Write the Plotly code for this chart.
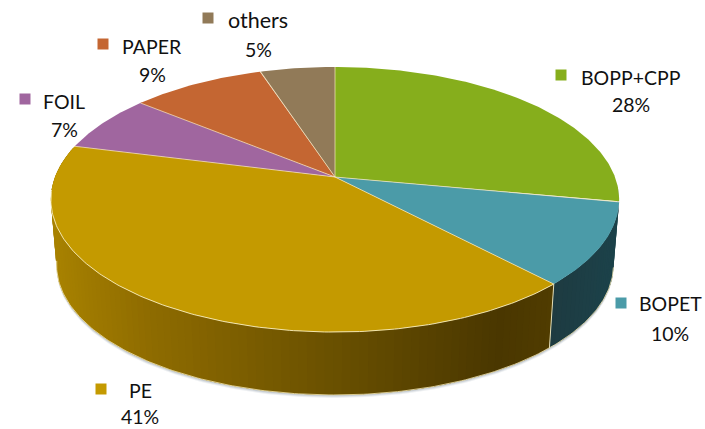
import numpy as np
import plotly.graph_objects as go

categories = ["BOPP+CPP", "BOPET", "PE", "FOIL", "PAPER", "others"]
shares = [28, 10, 41, 7, 9, 5]

face_colors = ["#86AE1C", "#4B9BA8", "#C49A00", "#A0669F", "#C46632", "#917A58"]
label_xy = [(631, 77, 104), (670, 303, 333), (140, 390, 416), (64, 101, 129), (152, 46, 74), (258, 20, 49)]
label_sizes = [19.5, 19.5, 19.5, 19.5, 19.5, 21.5]
swatch_xy = [(561, 75), (621, 303), (101, 389), (25, 99), (103, 44), (208, 18)]

W, H = 705, 429
CX, CY, B, A, K = 335, 177, 280, 128.7, 0.17
DEPTH, SCALE = 66, 0.98
EDGE = "rgba(248,236,190,0.85)"


def top(deg):
    t = np.radians(deg)
    d = 1 + K * np.cos(t)
    return CX + B * np.sin(t) / d, CY - A * np.cos(t) / d


def low(deg, extra=0.0):
    x, y = top(deg)
    return CX + (x - CX) * SCALE, CY + (y - CY) * SCALE + DEPTH + extra


def arc(fn, a0, a1, step=0.75):
    return fn(np.arange(a0, a1 + step / 2, step))


def lerp(x, stops):
    xs = [s[0] for s in stops]
    rgb = [int(round(np.interp(x, xs, [s[1][i] for s in stops]))) for i in range(3)]
    return f"rgb({rgb[0]},{rgb[1]},{rgb[2]})"


PE_STOPS = [(52, (168, 130, 0)), (150, (142, 107, 0)), (335, (105, 80, 0)), (500, (74, 55, 0)), (552, (80, 60, 0))]
PET_STOPS = [(548, (30, 58, 64)), (618, (28, 66, 74))]

edges = np.cumsum([0] + shares) * 3.6
fig = go.Figure()


def poly(xs, ys, fill, line=None, width=0.0):
    fig.add_trace(go.Scatter(
        x=list(xs), y=list(ys), mode="lines", fill="toself", fillcolor=fill,
        line=dict(color=line or fill, width=width), hoverinfo="skip", showlegend=False))


def stroke(xs, ys, color=EDGE, width=1.0):
    fig.add_trace(go.Scatter(
        x=list(xs), y=list(ys), mode="lines", line=dict(color=color, width=width),
        hoverinfo="skip", showlegend=False))


# soft shadow beneath the disc
for grow, alpha in [(3.0, 0.10), (2.0, 0.15), (1.0, 0.22)]:
    lx, ly = arc(lambda d: low(d, grow), 95, 265)
    tx, ty = arc(top, 95, 265)
    poly(np.r_[lx, tx[::-1]], np.r_[ly, ty[::-1]], f"rgba(90,105,125,{alpha})")

# rim strips for the two front slices: each strip overlaps the next, so no seams show
rim = [(edges[2], edges[3], PE_STOPS, 1), (edges[1], edges[2], PET_STOPS, -1)]
for a0, a1, stops, direction in rim:
    grid = np.arange(a0, a1 + 0.01, 1.5)
    grid[-1] = a1
    order = list(zip(grid[:-1], grid[1:]))
    if direction < 0:
        order = order[::-1]
    for p, q in order:
        if direction > 0:
            span = np.arange(p, min(q + 3, a1) + 0.01, 0.75)
        else:
            span = np.arange(max(p - 3, a0), q + 0.01, 0.75)
        xa, ya = top(span)
        xb, yb = low(span[::-1])
        xm = (top(p)[0] + top(q)[0]) / 2
        colour = lerp(xm, stops)
        poly(np.r_[xa, xb], np.r_[ya, yb], colour)

# light rim edges
lx, ly = arc(low, 100.8, 262)
stroke(lx, ly, "rgba(245,232,180,0.8)", 1)
xa, ya = top(edges[2])
xb, yb = low(edges[2])
stroke([xa, xb], [ya, yb], "rgba(245,235,190,0.9)", 1)

# top faces
for i, colour in enumerate(face_colors):
    ax, ay = arc(top, edges[i], edges[i + 1])
    poly(np.r_[CX, ax, CX], np.r_[CY, ay, CY], colour)

# edge highlights on top
fx, fy = arc(top, edges[2], edges[3] - 20)
stroke(fx, fy, "rgba(250,238,190,0.9)", 1)
for a in edges[:-1]:
    ex, ey = top(a)
    stroke([CX, ex], [CY, ey], "rgba(250,232,190,0.7)", 1)

# swatches
for (sx, sy), colour in zip(swatch_xy, face_colors):
    fig.add_trace(go.Scatter(
        x=[sx], y=[sy], mode="markers",
        marker=dict(symbol="square", size=11, color=colour, line=dict(width=0)),
        hoverinfo="skip", showlegend=False))

# labels
for name, share, (x, y1, y2), size in zip(categories, shares, label_xy, label_sizes):
    name_font = dict(family="Lato, Carlito, sans-serif", size=size, color="#111111")
    value_font = dict(family="Lato, Carlito, sans-serif", size=19.5, color="#111111")
    fig.add_annotation(x=x, y=y1, text=name, showarrow=False, font=name_font, xanchor="center", yanchor="middle")
    fig.add_annotation(x=x, y=y2, text=f"{share}%", showarrow=False, font=value_font, xanchor="center", yanchor="middle")

fig.update_xaxes(range=[0, W], visible=False, fixedrange=True)
fig.update_yaxes(range=[H, 0], visible=False, fixedrange=True)
fig.update_layout(
    width=W, height=H, margin=dict(l=0, r=0, t=0, b=0),
    paper_bgcolor="white", plot_bgcolor="white", showlegend=False, hovermode=False,
)
fig.write_html(
    "out.html", config=dict(displayModeBar=False),
    post_script="document.body.style.margin='0';document.documentElement.style.overflow='hidden';",
)
